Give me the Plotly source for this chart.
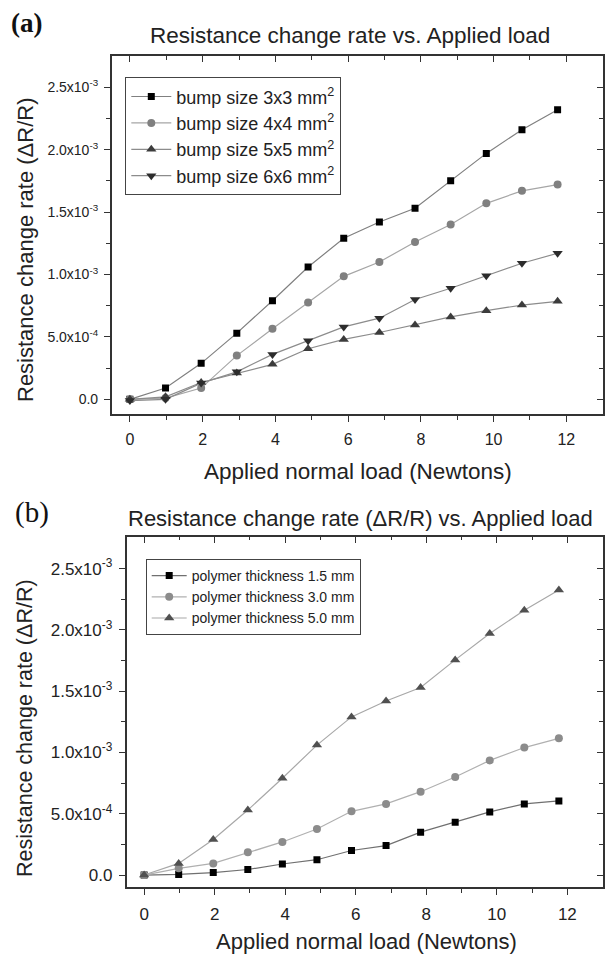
import plotly.graph_objects as go

# ---------------- data ----------------
load_n = [0, 0.98, 1.96, 2.94, 3.92, 4.90, 5.88, 6.86, 7.84, 8.82, 9.80, 10.78, 11.76]

# panel (a): bump size series (values in units of 1e-4)
bump_3x3 = [0, 0.9, 2.88, 5.3, 7.9, 10.6, 12.9, 14.2, 15.3, 17.5, 19.7, 21.6, 23.2]
bump_4x4 = [0, 0.1, 0.9, 3.5, 5.65, 7.75, 9.85, 11.0, 12.6, 14.0, 15.7, 16.7, 17.2]
bump_5x5 = [0, 0.2, 1.35, 2.1, 2.8, 4.05, 4.8, 5.35, 5.95, 6.6, 7.1, 7.55, 7.85]
bump_6x6 = [-0.1, 0.0, 1.3, 2.2, 3.6, 4.7, 5.8, 6.5, 8.0, 8.9, 9.9, 10.9, 11.7]

# panel (b): polymer thickness series (values in units of 1e-4)
poly_15 = [0, 0.05, 0.2, 0.45, 0.9, 1.25, 2.0, 2.4, 3.5, 4.3, 5.15, 5.8, 6.05]
poly_30 = [0, 0.55, 0.95, 1.85, 2.7, 3.75, 5.2, 5.8, 6.8, 8.0, 9.35, 10.4, 11.15]
poly_50 = [0, 0.95, 2.9, 5.3, 7.9, 10.6, 12.9, 14.2, 15.3, 17.55, 19.7, 21.6, 23.25]

names_a = ["bump size 3x3 mm<sup>2</sup>", "bump size 4x4 mm<sup>2</sup>",
           "bump size 5x5 mm<sup>2</sup>", "bump size 6x6 mm<sup>2</sup>"]
names_b = ["polymer thickness 1.5 mm", "polymer thickness 3.0 mm", "polymer thickness 5.0 mm"]

x_tickvals = [0, 2, 4, 6, 8, 10, 12]
x_minorvals = [1, 3, 5, 7, 9, 11]
y_tickvals = [0, 5e-4, 1.0e-3, 1.5e-3, 2.0e-3, 2.5e-3]
y_ticktext = ["0.0", "5.0x10<sup>-4</sup>", "1.0x10<sup>-3</sup>", "1.5x10<sup>-3</sup>",
              "2.0x10<sup>-3</sup>", "2.5x10<sup>-3</sup>"]
y_minorvals = [2.5e-4, 7.5e-4, 1.25e-3, 1.75e-3, 2.25e-3]

def scaled(v):
    return [e * 1e-4 for e in v]

W, H = 605, 955
def px(x):
    return x / W
def py(y):
    return 1 - y / H

FONT = "Liberation Sans, Arial, sans-serif"
AX = "#333333"

fig = go.Figure()

# ---------------- panel (a) traces ----------------
series_a = [
    (bump_3x3, "square", 7, "#000000", "#808080"),
    (bump_4x4, "circle", 8, "#808080", "#a6a6a6"),
    (bump_5x5, "triangle-up", 9, "#3c3c3c", "#8c8c8c"),
    (bump_6x6, "triangle-down", 9, "#2c2c2c", "#8c8c8c"),
]
for i, (vals, sym, sz, mc, lc) in enumerate(series_a):
    fig.add_trace(go.Scatter(
        x=load_n, y=scaled(vals), mode="lines+markers", name=names_a[i],
        xaxis="x", yaxis="y", legend="legend", legendgroup="a%d" % i,
        line=dict(color=lc, width=1.2),
        marker=dict(symbol=sym, size=sz, color=mc, line=dict(width=0)),
    ))

# ---------------- panel (b) traces ----------------
series_b = [
    (poly_15, "square", 7, "#000000", "#707070"),
    (poly_30, "circle", 8, "#8c8c8c", "#b0b0b0"),
    (poly_50, "triangle-up", 9, "#505050", "#a8a8a8"),
]
for i, (vals, sym, sz, mc, lc) in enumerate(series_b):
    fig.add_trace(go.Scatter(
        x=load_n, y=scaled(vals), mode="lines+markers", name=names_b[i],
        xaxis="x2", yaxis="y2", legend="legend2",
        line=dict(color=lc, width=1.2),
        marker=dict(symbol=sym, size=sz, color=mc, line=dict(width=0)),
    ))

# dummy traces so mirrored (inward-tick) axes are drawn
for xa, ya in [("x3", "y"), ("x", "y3"), ("x4", "y2"), ("x2", "y4")]:
    fig.add_trace(go.Scatter(x=[None], y=[None], xaxis=xa, yaxis=ya,
                             showlegend=False, hoverinfo="skip"))

XR = [-0.5, 13]
YR_A = [-1.2e-4, 2.75e-3]
YR_B = [-1.0e-4, 2.76e-3]

def main_x(domain, anchor, fsize, standoff):
    return dict(domain=domain, anchor=anchor, range=XR, tickmode="array",
                tickvals=x_tickvals, ticks="outside", ticklen=6, tickwidth=1.2,
                tickcolor=AX, minor=dict(tickmode="array", tickvals=x_minorvals,
                                         ticks="outside", ticklen=3.5, tickwidth=1, tickcolor=AX),
                showline=True, linecolor=AX, linewidth=1.5, mirror=True,
                showgrid=False, zeroline=False, ticklabelstandoff=standoff,
                tickfont=dict(family=FONT, size=fsize, color="#222"))

def main_y(domain, anchor, yr, fsize, standoff):
    return dict(domain=domain, anchor=anchor, range=yr, tickmode="array",
                tickvals=y_tickvals, ticktext=y_ticktext, ticks="outside", ticklen=6,
                tickwidth=1.2, tickcolor=AX,
                minor=dict(tickmode="array", tickvals=y_minorvals, ticks="outside",
                           ticklen=3.5, tickwidth=1, tickcolor=AX),
                showline=True, linecolor=AX, linewidth=1.5, mirror=True,
                showgrid=False, zeroline=False, ticklabelstandoff=standoff,
                tickfont=dict(family=FONT, size=fsize, color="#222"))

def over_x(over, anchor):
    return dict(overlaying=over, anchor=anchor, side="top", range=XR, tickmode="array",
                tickvals=x_tickvals, ticks="inside", ticklen=6, tickwidth=1.2, tickcolor=AX,
                minor=dict(tickmode="array", tickvals=x_minorvals, ticks="inside",
                           ticklen=3.5, tickwidth=1, tickcolor=AX),
                showticklabels=False, showline=False, showgrid=False, zeroline=False)

def over_y(over, anchor, yr):
    return dict(overlaying=over, anchor=anchor, side="right", range=yr, tickmode="array",
                tickvals=y_tickvals, ticks="inside", ticklen=6, tickwidth=1.2, tickcolor=AX,
                minor=dict(tickmode="array", tickvals=y_minorvals, ticks="inside",
                           ticklen=3.5, tickwidth=1, tickcolor=AX),
                showticklabels=False, showline=False, showgrid=False, zeroline=False)

dom_xa = [px(111.7), px(602.7)]
dom_ya = [py(414.3), py(56)]
dom_xb = [px(126.5), px(602.6)]
dom_yb = [py(887.3), py(536.7)]

SERIF = "Liberation Serif, Times New Roman, serif"
annotations = [
    dict(text="<b>(a)</b>", x=px(26.7), y=py(23.5), font=dict(family=SERIF, size=27, color="#111")),
    dict(text="(b)", x=px(32), y=py(512.5), font=dict(family=SERIF, size=29, color="#111")),
    dict(text="Resistance change rate vs. Applied load", x=px(350), y=py(36),
         font=dict(family=FONT, size=22.5, color="#222")),
    dict(text="Resistance change rate (\u0394R/R) vs. Applied load", x=px(360), y=py(518),
         font=dict(family=FONT, size=22, color="#222")),
    dict(text="Applied normal load (Newtons)", x=px(358), y=py(471),
         font=dict(family=FONT, size=22.5, color="#222")),
    dict(text="Applied normal load (Newtons)", x=px(366), y=py(941),
         font=dict(family=FONT, size=22, color="#222")),
    dict(text="Resistance change rate (\u0394R/R)", x=px(26), y=py(250), textangle=-90,
         font=dict(family=FONT, size=22, color="#222")),
    dict(text="Resistance change rate (\u0394R/R)", x=px(25), y=py(728), textangle=-90,
         font=dict(family=FONT, size=21.5, color="#222")),
]
for a in annotations:
    a.update(xref="paper", yref="paper", showarrow=False, xanchor="center", yanchor="middle")

fig.update_layout(
    width=W, height=H, autosize=False,
    margin=dict(l=0, r=0, t=0, b=0),
    paper_bgcolor="white", plot_bgcolor="white",
    font=dict(family=FONT, color="#222"),
    xaxis=main_x(dom_xa, "y", 16, 4),
    yaxis=main_y(dom_ya, "x", YR_A, 14, 3),
    xaxis2=main_x(dom_xb, "y2", 17, 5),
    yaxis2=main_y(dom_yb, "x2", YR_B, 17, 3),
    xaxis3=over_x("x", "y"),
    yaxis3=over_y("y", "x", YR_A),
    xaxis4=over_x("x2", "y2"),
    yaxis4=over_y("y2", "x2", YR_B),
    legend=dict(x=px(125.3), y=py(77.3), xanchor="left", yanchor="top",
                bgcolor="white", bordercolor="#444", borderwidth=1,
                font=dict(family=FONT, size=18, color="#222"),
                itemwidth=40, traceorder="grouped", tracegroupgap=0),
    legend2=dict(x=px(145.7), y=py(559), xanchor="left", yanchor="top",
                 bgcolor="white", bordercolor="#444", borderwidth=1,
                 font=dict(family=FONT, size=14, color="#222"),
                 itemwidth=35, tracegroupgap=0),
    annotations=annotations,
    showlegend=True,
)

fig.write_html("out.html")
